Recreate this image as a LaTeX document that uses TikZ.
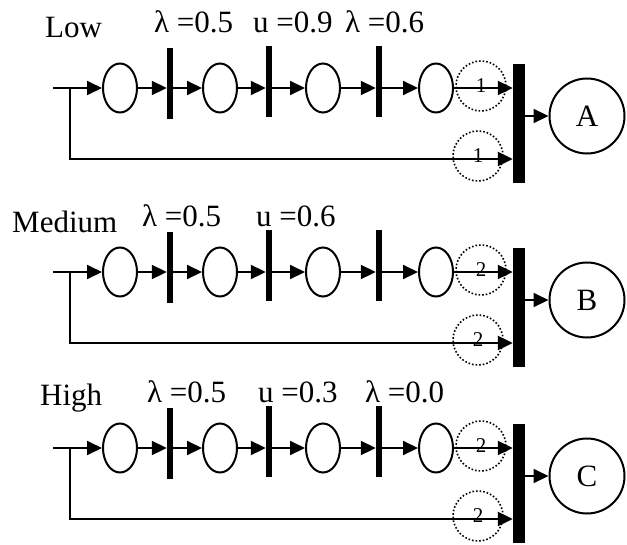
\documentclass[tikz,border=0pt]{standalone}
\usepackage{fontspec}
\setmainfont{Liberation Serif}
\usetikzlibrary{arrows.meta,shapes.geometric}

\begin{document}
\begin{tikzpicture}[x=1pt, y=-1pt,
  place/.style={draw, line width=2pt, ellipse, minimum width=34pt,
                minimum height=49pt, inner sep=0pt},
  bar/.style={fill=black, minimum width=6pt, minimum height=71pt, inner sep=0pt},
  bigbar/.style={fill=black, minimum width=12pt, minimum height=119pt, inner sep=0pt},
  token/.style={draw, dotted, line width=1.6pt, circle, minimum size=50pt,
                inner sep=0pt, font=\fontsize{21}{24}\selectfont},
  result/.style={draw, line width=2pt, circle, minimum size=75pt,
                 inner sep=0pt, font=\fontsize{31}{36}\selectfont},
  lbl/.style={font=\fontsize{31}{36}\selectfont, inner sep=0pt, anchor=base west},
  arc/.style={line width=2pt, -{Triangle[length=15pt,width=14pt]}},
  ]
  \useasboundingbox (0,0) rectangle (627,544);

  % one net per level
  \foreach \y/\nm/\res/\k in {88/low/A/1, 272/med/B/2, 448/high/C/2} {
    \coordinate (in\nm) at (53,\y);
    \coordinate (br\nm) at (70,\y);
    \coordinate (lo\nm) at (70,\y+71);
    \node[place] (p1\nm) at (120,\y) {};
    \node[bar]   (t1\nm) at (170,\y-4.5) {};
    \node[place] (p2\nm) at (220,\y) {};
    \node[bar]   (t2\nm) at (269,\y-7) {};
    \node[place] (p3\nm) at (323,\y) {};
    \node[bar]   (t3\nm) at (379,\y-7) {};
    \node[place] (p4\nm) at (436,\y) {};
    \node[bigbar] (bb\nm) at (519,\y+35) {};
    \node[token] (k1\nm) at (481,\y-2) {\k};
    \node[token] (k2\nm) at (478,\y+68) {\k};
    \node[result] (r\nm) at (587,\y+28) {\res};

    \draw[arc] (in\nm) -- (p1\nm.west);
    \draw[arc] (p1\nm.east) -- (p1\nm.east -| t1\nm.west);
    \draw[arc] (t1\nm.east |- p2\nm.west) -- (p2\nm.west);
    \draw[arc] (p2\nm.east) -- (p2\nm.east -| t2\nm.west);
    \draw[arc] (t2\nm.east |- p3\nm.west) -- (p3\nm.west);
    \draw[arc] (p3\nm.east) -- (p3\nm.east -| t3\nm.west);
    \draw[arc] (t3\nm.east |- p4\nm.west) -- (p4\nm.west);
    \draw[arc] (p4\nm.east) -- (p4\nm.east -| bb\nm.west);
    \draw[arc] (br\nm) -- (lo\nm) -- (lo\nm -| bb\nm.west);
    \draw[arc] (bb\nm.east |- r\nm.west) -- (r\nm.west);
  }

  % level names and rates
  \node[lbl] (lowname) at (45,37) {Low};
  \node[lbl] (lowa) at (154,32) {λ =0.5};
  \node[lbl] (lowb) at (253,32) {u =0.9};
  \node[lbl] (lowc) at (345,32) {λ =0.6};
  \node[lbl] (medname) at (12,232) {Medium};
  \node[lbl] (meda) at (142,226) {λ =0.5};
  \node[lbl] (medb) at (256,226) {u =0.6};
  \node[lbl] (highname) at (40,405) {High};
  \node[lbl] (higha) at (147,402) {λ =0.5};
  \node[lbl] (highb) at (258,402) {u =0.3};
  \node[lbl] (highc) at (365,402) {λ =0.0};
\end{tikzpicture}
\end{document}
